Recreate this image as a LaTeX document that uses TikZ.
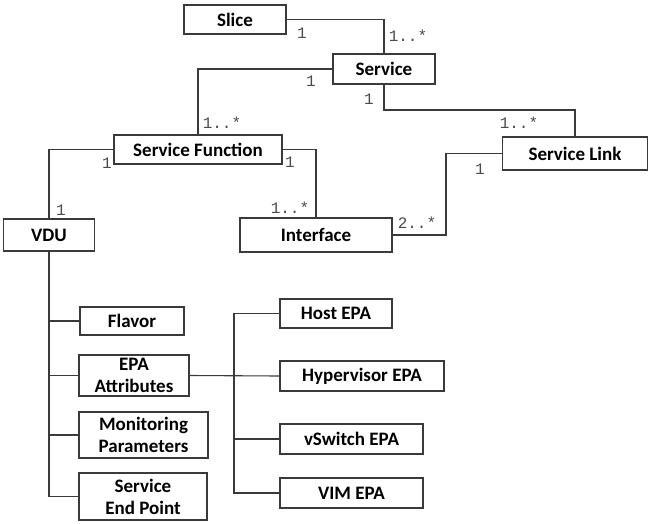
\documentclass[tikz,border=0pt]{standalone}
\usepackage{fontspec}
\setmainfont{Carlito}
\newfontfamily\multfont{Liberation Mono}
\definecolor{linec}{HTML}{3A3A3A}
\definecolor{multc}{HTML}{4A4A4A}
\tikzset{
  box/.style={draw=linec, line width=1.3pt, fill=white, inner sep=0pt, align=center,
    font=\fontsize{19}{22}\selectfont\bfseries},
  conn/.style={draw=linec, line width=1.1pt},
  mult/.style={font=\multfont\fontsize{16}{16}\selectfont, text=multc, inner sep=0pt},
}
\begin{document}
\begin{tikzpicture}[x=1pt,y=-1pt]
\useasboundingbox (0,0) rectangle (649,523);
% nodes
\node[box, minimum width=102pt, minimum height=29pt] (slice) at (235,19.5) {Slice};
\node[box, minimum width=102pt, minimum height=30pt] (service) at (384,69) {Service};
\node[box, minimum width=168pt, minimum height=29pt] (sf) at (198,149.5) {Service Function};
\node[box, minimum width=145pt, minimum height=33pt] (sl) at (575,153.5) {Service Link};
\node[box, minimum width=91pt, minimum height=32pt] (vdu) at (49,235) {VDU};
\node[box, minimum width=152pt, minimum height=34pt] (iface) at (316,235) {Interface};
\node[box, minimum width=104pt, minimum height=28pt] (flavor) at (132,321) {Flavor};
\node[box, minimum width=110pt, minimum height=41pt] (epa) at (134,375.5) {EPA\\Attributes};
\node[box, minimum width=129pt, minimum height=46pt] (mon) at (143.5,435) {Monitoring\\Parameters};
\node[box, minimum width=128pt, minimum height=47pt] (sep) at (143,496.5) {Service\\End Point};
\node[box, minimum width=112pt, minimum height=29pt] (host) at (336,313.5) {Host EPA};
\node[box, minimum width=164pt, minimum height=30pt] (hyp) at (362,376) {Hypervisor EPA};
\node[box, minimum width=143pt, minimum height=30pt] (vsw) at (351.5,439) {vSwitch EPA};
\node[box, minimum width=143pt, minimum height=30pt] (vim) at (351.5,493) {VIM EPA};
% connectors
\coordinate (slk) at (575,110);
\coordinate (ik) at (446,235);
\coordinate (et) at (234,376);
\draw[conn] (slice.east) -| (service.north);
\draw[conn] (service.west) -| (sf.north);
\draw[conn] (service.south) |- (slk) -- (sl.north);
\draw[conn] (sf.west) -| (vdu.north);
\draw[conn] (sf.east) -| (iface.north);
\draw[conn] (iface.east) -- (ik) |- (sl.west);
\draw[conn] (vdu.south) |- (sep.west);
\draw[conn] (vdu.south |- flavor.west) -- (flavor.west);
\draw[conn] (vdu.south |- epa.west) -- (epa.west);
\draw[conn] (vdu.south |- mon.west) -- (mon.west);
\draw[conn] (epa.east) -- (hyp.west);
\draw[conn] (host.west) -- (host.west -| et) -- (vim.west -| et) -- (vim.west);
\draw[conn] (vsw.west) -- (vsw.west -| et);
% multiplicities
\node[mult] (m1) at (302,33) {1};
\node[mult] (m2) at (408,36) {1..*};
\node[mult] (m3) at (311,81) {1};
\node[mult] (m4) at (369,99) {1};
\node[mult] (m5) at (222,123) {1..*};
\node[mult] (m6) at (519,123) {1..*};
\node[mult] (m7) at (107,163) {1};
\node[mult] (m8) at (290,162) {1};
\node[mult] (m9) at (480,169) {1};
\node[mult] (m10) at (61,210) {1};
\node[mult] (m11) at (290,208) {1..*};
\node[mult] (m12) at (417,223) {2..*};
\end{tikzpicture}
\end{document}
